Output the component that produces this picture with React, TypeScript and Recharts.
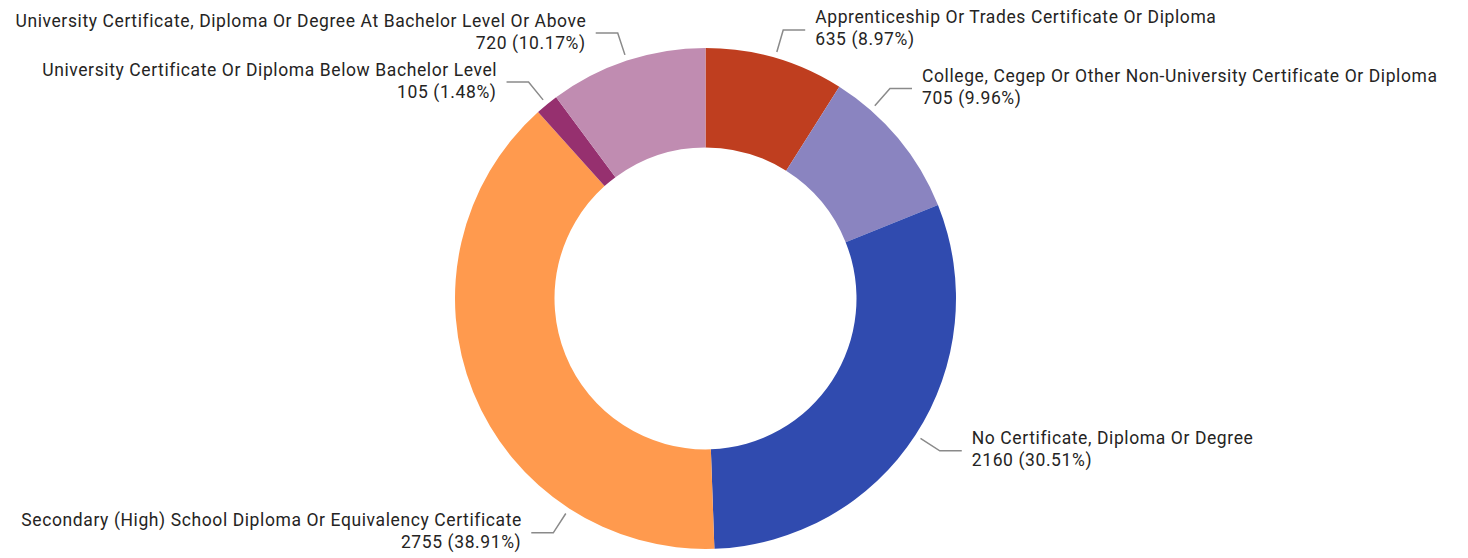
import React from "react";
import { Cell, Pie, PieChart } from "recharts";

const categories = [
  "Apprenticeship Or Trades Certificate Or Diploma",
  "College, Cegep Or Other Non-University Certificate Or Diploma",
  "No Certificate, Diploma Or Degree",
  "Secondary (High) School Diploma Or Equivalency Certificate",
  "University Certificate Or Diploma Below Bachelor Level",
  "University Certificate, Diploma Or Degree At Bachelor Level Or Above",
];
const counts = [635, 705, 2160, 2755, 105, 720];
const colors = ["#BF3E1F", "#8A84C0", "#304BAF", "#FF9A4E", "#96306F", "#C08CB1"];

// Power BI nudges a couple of labels away from the slice mid angle
const labelAngleOverride: Record<string, number> = {
  "College, Cegep Or Other Non-University Certificate Or Diploma": 48.7,
  "Secondary (High) School Diploma Or Equivalency Certificate": -123,
};

const data = categories.map((name, i) => ({ name, value: counts[i] }));
const total = counts.reduce((a, b) => a + b, 0);

const W = 1468;
const H = 558;
const RAD = Math.PI / 180;
const FONT = "Roboto, sans-serif";
const FONT_SIZE = 17.5;
const SPACING = 0.6;
const EDGE = 8;

let ctx: CanvasRenderingContext2D | null = null;
const textWidth = (s: string) => {
  if (!ctx && typeof document !== "undefined") {
    ctx = document.createElement("canvas").getContext("2d");
  }
  if (!ctx) return s.length * 8.5;
  ctx.font = `${FONT_SIZE}px Roboto`;
  return ctx.measureText(s).width + SPACING * s.length;
};

const renderLabel = (props: any) => {
  const { cx, cy, midAngle, outerRadius, name, value } = props;
  const angle = labelAngleOverride[name] ?? midAngle;
  const cos = Math.cos(angle * RAD);
  const sin = Math.sin(angle * RAD);
  const x1 = cx + (outerRadius + 6) * cos;
  const y1 = cy - (outerRadius + 6) * sin;
  const x2 = cx + (outerRadius + 29) * cos;
  const y2 = cy - (outerRadius + 29) * sin;
  const right = cos >= 0;
  const x3 = x2 + (right ? 22 : -22);
  const tx = x3 + (right ? 10 : -10);
  const pct = ((value / total) * 100).toFixed(2);
  const lines = [name, `${value} (${pct}%)`];
  const common = {
    dominantBaseline: "central" as const,
    fontFamily: FONT,
    fontSize: FONT_SIZE,
    letterSpacing: SPACING,
    fill: "#252423",
  };
  return (
    <g>
      <path d={`M${x1},${y1}L${x2},${y2}L${x3},${y2}`} stroke="#8a8a8a" strokeWidth={1.5} fill="none" />
      {lines.map((s, i) => {
        const w = textWidth(s);
        let x = right ? tx : tx - w;
        if (x < EDGE) x = EDGE;
        if (x + w > W - EDGE) x = W - EDGE - w;
        return (
          <text key={i} {...common} x={x} y={y2 + (i === 0 ? -12.5 : 9.5)} textAnchor="start">
            {s}
          </text>
        );
      })}
    </g>
  );
};

const App = () => {
  return (
    <div style={{ width: W, height: H, background: "#ffffff" }}>
      <style>{`body{margin:0}`}</style>
      <PieChart width={W} height={H} margin={{ top: 0, right: 0, bottom: 0, left: 0 }}>
        <Pie
          data={data}
          dataKey="value"
          nameKey="name"
          cx={705.5}
          cy={298.4}
          innerRadius={151}
          outerRadius={250.5}
          startAngle={90}
          endAngle={-270}
          stroke="none"
          label={renderLabel}
          labelLine={false}
          isAnimationActive={false}
        >
          {data.map((d, i) => (
            <Cell key={d.name} fill={colors[i]} />
          ))}
        </Pie>
      </PieChart>
    </div>
  );
};

export default App;
